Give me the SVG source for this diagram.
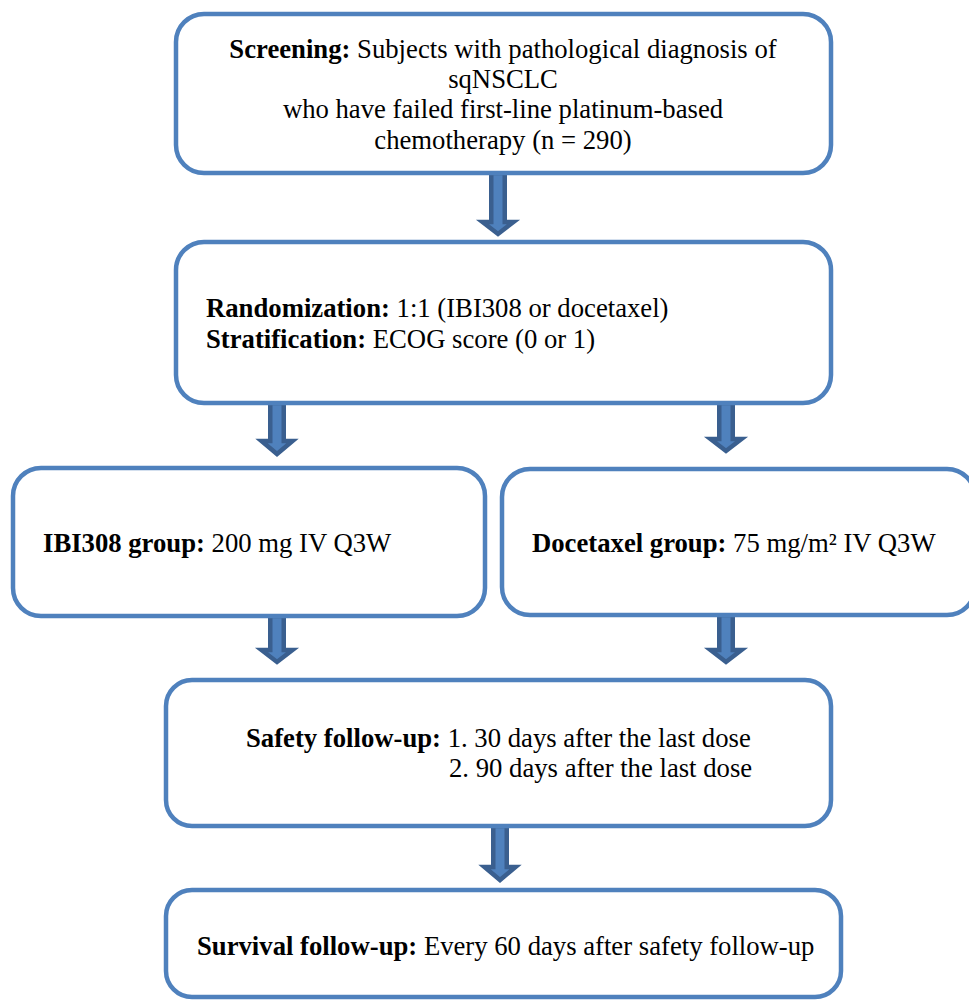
<svg xmlns="http://www.w3.org/2000/svg" width="969" height="1000" viewBox="0 0 969 1000">
<style>
.box{fill:#ffffff;stroke:#4F81BD;stroke-width:4.5}
.arr{fill:#4F81BD;stroke:#3A5F8F;stroke-width:4.5;stroke-linejoin:miter}
text{font-family:"Liberation Serif","Times New Roman",serif;font-size:26.7px;fill:#000}
.b{font-weight:bold}
</style>
<rect width="969" height="1000" fill="#ffffff"/>
<g id="connectors">
<path class="arr" d="M491.25,173 L504.75,173 L504.75,222 L513.5,222 L498,234 L482.5,222 L491.25,222 Z"/>
<path class="arr" d="M270.25,403 L283.75,403 L283.75,441 L292.5,441 L277,454 L261.5,441 L270.25,441 Z"/>
<path class="arr" d="M719.25,403 L732.75,403 L732.75,439 L741.5,439 L726,451 L710.5,439 L719.25,439 Z"/>
<path class="arr" d="M270.25,616 L283.75,616 L283.75,650 L292.5,650 L277,662 L261.5,650 L270.25,650 Z"/>
<path class="arr" d="M719.25,615 L732.75,615 L732.75,650 L741.5,650 L726,662 L710.5,650 L719.25,650 Z"/>
<path class="arr" d="M493.25,826 L506.75,826 L506.75,867 L515.5,867 L500,880 L484.5,867 L493.25,867 Z"/>
</g>
<g id="screening">
<rect class="box" x="176" y="14" width="655" height="159" rx="28"/>
<text x="503" y="58" text-anchor="middle"><tspan class="b">Screening:</tspan> Subjects with pathological diagnosis of</text>
<text x="503" y="88" text-anchor="middle">sqNSCLC</text>
<text x="503" y="118" text-anchor="middle">who have failed first-line platinum-based</text>
<text x="503" y="149" text-anchor="middle">chemotherapy (n = 290)</text>
</g>
<g id="randomization">
<rect class="box" x="176" y="242" width="655" height="161" rx="28"/>
<text x="206" y="317"><tspan class="b">Randomization:</tspan> 1:1 (IBI308 or docetaxel)</text>
<text x="206" y="348"><tspan class="b">Stratification:</tspan> ECOG score (0 or 1)</text>
</g>
<g id="ibi308">
<rect class="box" x="13" y="468" width="472" height="148" rx="28"/>
<text x="43" y="552"><tspan class="b">IBI308 group:</tspan> 200 mg IV Q3W</text>
</g>
<g id="docetaxel">
<rect class="box" x="502" y="469" width="473" height="146" rx="28"/>
<text x="532" y="552"><tspan class="b">Docetaxel group:</tspan> 75 mg/m² IV Q3W</text>
</g>
<g id="safety">
<rect class="box" x="166" y="680" width="665" height="146" rx="26"/>
<text x="246" y="747"><tspan class="b">Safety follow-up:</tspan> 1. 30 days after the last dose</text>
<text x="449" y="777">2. 90 days after the last dose</text>
</g>
<g id="survival">
<rect class="box" x="166" y="890" width="675" height="107" rx="26"/>
<text x="197" y="955"><tspan class="b">Survival follow-up:</tspan> Every 60 days after safety follow-up</text>
</g>
</svg>
